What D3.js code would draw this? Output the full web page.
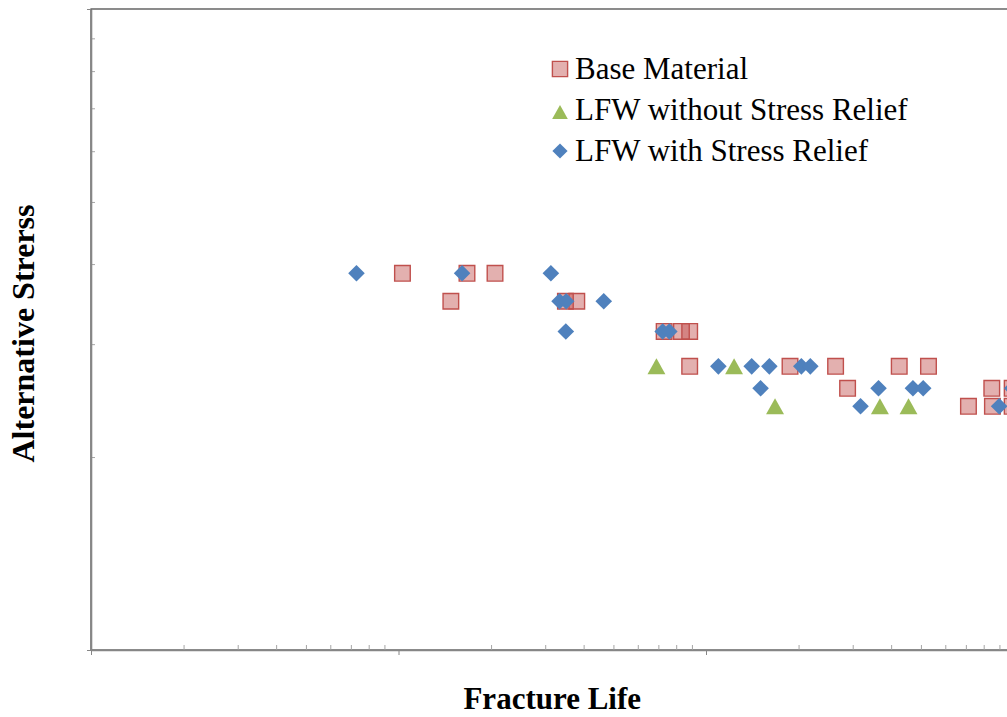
<!DOCTYPE html>
<html>
<head>
<meta charset="utf-8">
<script src="https://cdn.jsdelivr.net/npm/d3@7"></script>
<style>
  html, body { margin: 0; padding: 0; background: #ffffff; }
  svg { display: block; }
</style>
</head>
<body>
<svg id="chart" width="1007" height="717"></svg>
<script>
// Fatigue test results: fracture life (cycles) vs. alternating stress (MPa)
const seriesNames = ["Base Material", "LFW without Stress Relief", "LFW with Stress Relief"];

const baseLife   = [103000, 167000, 206000, 148000, 349000, 380000, 731000, 832000, 885000,
                    885000, 1876000, 2639000, 4250000, 5291000, 2887000, 8500000, 9900000,
                    7137000, 8540000, 9900000];
const baseStress = [387, 387, 387, 350, 350, 350, 314, 314, 314,
                    277, 277, 277, 277, 277, 256, 256, 256,
                    240, 240, 240];

const noSrLife   = [690000, 1234000, 1677000, 3678000, 4556000];
const noSrStress = [277, 277, 240, 240, 240];

const srLife   = [73000, 161000, 313000, 334000, 351000, 465000, 350000, 723000, 760000,
                  1097000, 1408000, 1607000, 2042000, 2184000,
                  1505000, 3640000, 4709000, 5085000, 9900000,
                  3181000, 8980000];
const srStress = [387, 387, 387, 350, 350, 350, 314, 314, 314,
                  277, 277, 277, 277, 277,
                  256, 256, 256, 256, 256,
                  240, 240];

const xMajorTicks = [1e4, 1e5, 1e6, 1e7];
const xMinorTicks = [];
[1e4, 1e5, 1e6].forEach(d => { for (let k = 2; k <= 9; k++) xMinorTicks.push(d * k); });
const yMajorTicks = [100, 1000];
const yMinorTicks = [200, 300, 400, 500, 600, 700, 800, 900];

const FONT = "'Liberation Serif', 'DejaVu Serif', serif";

const svg = d3.select("#chart");
const W = 1007, H = 717;
const plot = { left: 91, top: 9, right: 1013.5, bottom: 650 };

const x = d3.scaleLog().domain([1e4, 1e7]).range([plot.left, plot.right]);
const y = d3.scaleLog().domain([100, 1000]).range([plot.bottom, plot.top]);

svg.append("rect").attr("width", W).attr("height", H).attr("fill", "#ffffff");

// plot-area frame
svg.append("rect")
  .attr("x", plot.left).attr("y", plot.top)
  .attr("width", plot.right - plot.left).attr("height", plot.bottom - plot.top)
  .attr("fill", "none").attr("stroke", "#404040").attr("stroke-width", 1.2);

// custom marker shapes (size = half extent in px)
const squareSym  = { draw(ctx, s) { ctx.rect(-s, -s, 2 * s, 2 * s); } };
const diamondSym = { draw(ctx, s) { ctx.moveTo(0, -s); ctx.lineTo(s, 0); ctx.lineTo(0, s); ctx.lineTo(-s, 0); ctx.closePath(); } };
const triSym     = { draw(ctx, s) { ctx.moveTo(0, -s); ctx.lineTo(s * 1.12, s); ctx.lineTo(-s * 1.12, s); ctx.closePath(); } };

const styles = [
  { sym: squareSym,  size: 7.8, fill: "rgba(192,80,77,0.45)", stroke: "#c0504d", sw: 1.4 },
  { sym: triSym,     size: 8,   fill: "#9bbb59", stroke: "none", sw: 0 },
  { sym: diamondSym, size: 8.3, fill: "#4f81bd", stroke: "none", sw: 0 }
];

const series = [
  d3.zip(baseLife, baseStress),
  d3.zip(noSrLife, noSrStress),
  d3.zip(srLife, srStress)
];

svg.append("clipPath").attr("id", "plotclip").append("rect")
  .attr("x", 0).attr("y", 0).attr("width", W).attr("height", plot.bottom + 10);

series.forEach((pts, i) => {
  const st = styles[i];
  const sym = d3.symbol().type(st.sym).size(st.size);
  svg.append("g").attr("clip-path", "url(#plotclip)")
    .selectAll("path").data(pts).join("path")
    .attr("d", sym)
    .attr("transform", d => `translate(${x(d[0])},${y(d[1])})`)
    .attr("fill", st.fill)
    .attr("stroke", st.stroke)
    .attr("stroke-width", st.sw);
});

// axes: minor ticks inside, major ticks outside
function styleAxis(g, color, hideDomain) {
  g.selectAll("text").remove();
  if (hideDomain) g.select(".domain").remove();
  g.select(".domain").attr("stroke", "#868686").attr("stroke-width", 1.6);
  g.selectAll(".tick line").attr("stroke", color).attr("stroke-width", 1);
}

svg.append("g").attr("transform", `translate(0,${plot.bottom})`)
  .call(d3.axisBottom(x).tickValues(xMinorTicks).tickSize(-5).tickFormat(""))
  .call(g => styleAxis(g, "#a6a6a6", true));
svg.append("g").attr("transform", `translate(0,${plot.bottom})`)
  .call(d3.axisBottom(x).tickValues(xMajorTicks).tickSizeInner(5).tickSizeOuter(0).tickFormat(""))
  .call(g => styleAxis(g, "#868686", false));

svg.append("g").attr("transform", `translate(${plot.left},0)`)
  .call(d3.axisLeft(y).tickValues(yMinorTicks).tickSize(-4).tickFormat(""))
  .call(g => styleAxis(g, "#a6a6a6", true));
svg.append("g").attr("transform", `translate(${plot.left},0)`)
  .call(d3.axisLeft(y).tickValues(yMajorTicks).tickSizeInner(4).tickSizeOuter(0).tickFormat(""))
  .call(g => styleAxis(g, "#868686", false));

// axis titles
svg.append("text")
  .attr("x", (plot.left + plot.right) / 2).attr("y", 709)
  .attr("text-anchor", "middle")
  .attr("font-family", FONT)
  .attr("font-size", 31).attr("font-weight", "bold")
  .attr("fill", "#000")
  .text("Fracture Life");

svg.append("text")
  .attr("transform", `translate(34,${(plot.top + plot.bottom) / 2 + 4}) rotate(-90)`)
  .attr("text-anchor", "middle")
  .attr("font-family", FONT)
  .attr("font-size", 32).attr("font-weight", "bold")
  .attr("fill", "#000")
  .text("Alternative Strerss");

// legend
const legend = svg.append("g").attr("transform", "translate(560,69)");
seriesNames.forEach((name, i) => {
  const st = styles[i];
  const row = legend.append("g").attr("transform", `translate(0,${i * 41})`);
  row.append("path")
    .attr("d", d3.symbol().type(st.sym).size(i === 1 ? 7 : 7.6)())
    .attr("transform", `translate(0,${i === 1 ? 2 : 0})`)
    .attr("fill", st.fill).attr("stroke", st.stroke).attr("stroke-width", st.sw);
  row.append("text")
    .attr("x", 15).attr("y", 9.5)
    .attr("font-family", FONT)
    .attr("font-size", 31)
    .attr("fill", "#000")
    .text(name);
});
</script>
</body>
</html>
